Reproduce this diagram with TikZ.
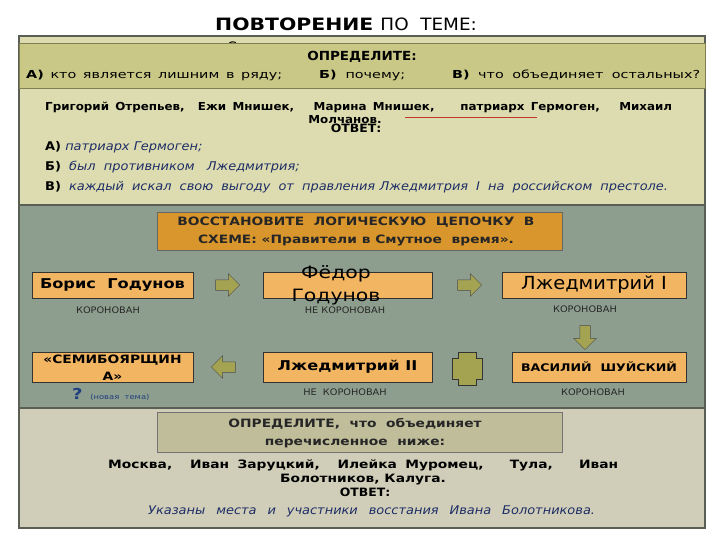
\documentclass[tikz,border=0pt]{standalone}
\usepackage{fontspec}
\setmainfont{DejaVu Sans}[FakeStretch=1.2]
\newfontfamily\cond{DejaVu Sans Condensed}[FakeStretch=1.2]
\newfontfamily\condw{DejaVu Sans Condensed}[FakeStretch=1.45]
\usetikzlibrary{shapes.arrows}
\definecolor{topfill}{HTML}{DCDCB0}
\definecolor{hdrfill}{HTML}{C9C887}
\definecolor{hdrline}{HTML}{7F7F50}
\definecolor{midfill}{HTML}{8E9E8E}
\definecolor{botfill}{HTML}{D0CEB9}
\definecolor{botbox}{HTML}{C0BD9A}
\definecolor{orgdark}{HTML}{D9962C}
\definecolor{orglight}{HTML}{F2B562}
\definecolor{olivearr}{HTML}{A3A352}
\definecolor{framec}{HTML}{5A5F55}
\definecolor{navy}{HTML}{1E2D66}
\definecolor{qblue}{HTML}{1F3F7F}
\definecolor{redline}{HTML}{C0392B}
\newcommand{\spread}[2]{\makebox[#1][s]{#2}}
\tikzset{
  ruler/.style={draw=black!80, fill=orglight, line width=0.6pt, inner sep=0pt},
  blockarr/.style={single arrow, draw=black!70, fill=olivearr, line width=0.5pt,
    minimum height=24pt, minimum width=0pt, inner xsep=0pt, inner ysep=5pt,
    single arrow head extend=6pt},
  lbl/.style={font=\cond\fontsize{9}{10}\selectfont, text=black!85},
  txt/.style={inner sep=0pt, font=\fontsize{10}{12}\selectfont},
  hq/.style={inner sep=0pt, anchor=west, font=\condw\fontsize{11}{13}\selectfont},
}
\begin{document}
\begin{tikzpicture}[x=1pt,y=-1pt]
\useasboundingbox (0,0) rectangle (720,540);
\fill[white] (0,0) rectangle (720,540);
% title
\node[inner sep=0pt, anchor=west, font=\fontsize{17}{19}\selectfont] (title) at (215,24)
  {\bfseries ПОВТОРЕНИЕ\ \mdseries\cond ПО\ \ ТЕМЕ:};
% panels
\fill[topfill] (19,36) rectangle (705,205);
\fill[midfill] (19,205) rectangle (705,408);
\fill[botfill] (19,408) rectangle (705,528);
\draw[framec, line width=1.2pt] (19,205) -- (705,205);
\draw[framec, line width=1.2pt] (19,408) -- (705,408);
\draw[framec, line width=2.4pt] (19,36) rectangle (705,528);
\node[inner sep=0pt, font=\cond\fontsize{13}{14}\selectfont] (hidden) at (232,47) {С};
% header box
\node[draw=hdrline, fill=hdrfill, line width=1pt, minimum width=686pt, minimum height=45pt, inner sep=0pt] (hdr) at (362,66.5) {};
\node[txt, font=\bfseries\cond\fontsize{12.5}{14}\selectfont] (hdrt) at (362,57) {ОПРЕДЕЛИТЕ:};
\node[hq] (qa) at (26,75) {\spread{256pt}{\textbf{А)} кто является лишним в ряду;}};
\node[hq] (qb) at (319,75) {\spread{86pt}{\textbf{Б)} почему;}};
\node[hq] (qc) at (452,75) {\spread{248pt}{\textbf{В)} что объединяет остальных?}};
% names
\node[txt, anchor=west, font=\bfseries\cond\fontsize{11}{13}\selectfont] (names) at (45,107)
  {\spread{627pt}{Григорий Отрепьев, \ Ежи Мнишек, \ \ Марина Мнишек, \ \ \ патриарх Гермоген, \ \ Михаил}};
\node[txt, font=\bfseries\cond\fontsize{11}{13}\selectfont] (molch) at (345,120) {Молчанов.};
\node[txt, font=\bfseries\cond\fontsize{11.5}{13}\selectfont] (otv1) at (356,128) {ОТВЕТ:};
\coordinate (ul1) at (405,117);
\coordinate (ul2) at (537,117);
\draw[redline, line width=0.8pt] (ul1) -- (ul2);
% answers
\node[txt, anchor=west, font=\cond\fontsize{12}{14}\selectfont] (ansa) at (45,147)
  {\textbf{А)} \textcolor{navy}{\itshape патриарх\ Гермоген;}};
\node[txt, anchor=west, font=\cond\fontsize{12}{14}\selectfont] (ansb) at (45,167)
  {\textbf{Б)}\ \ \textcolor{navy}{\itshape был\ \ противником\ \ \ Лжедмитрия;}};
\node[txt, anchor=west, font=\cond\fontsize{12}{14}\selectfont] (ansc) at (45,187)
  {\spread{623pt}{\textbf{В)} \textcolor{navy}{\itshape каждый искал свою выгоду от правления\hspace{-0.3em} Лжедмитрия I на российском престоле.}}};
% middle header
\node[draw=black!60, fill=orgdark, line width=0.6pt, minimum width=405pt, minimum height=38pt, inner sep=0pt] (task) at (359.5,231) {};
\node[txt, align=center, font=\bfseries\fontsize{11.5}{18}\selectfont, text=black!85] (taskt) at (356,231)
  {ВОССТАНОВИТЕ\ \ ЛОГИЧЕСКУЮ\ \ ЦЕПОЧКУ\ \ В\\СХЕМЕ: «Правители в Смутное\ \ время».};
% row 1
\node[ruler, minimum width=161pt, minimum height=26pt, font=\bfseries\fontsize{13.5}{15}\selectfont] (boris) at (112.5,285) {Борис\ \ Годунов};
\node[ruler, minimum width=169pt, minimum height=26pt] (fedor) at (347.5,285) {};
\node[inner sep=0pt, align=center, font=\fontsize{17}{23}\selectfont] (fedort) at (336,285) {Фёдор\\Годунов};
\node[ruler, minimum width=184pt, minimum height=26pt, font=\cond\fontsize{18}{20}\selectfont] (lzh1) at (594,285) {Лжедмитрий I};
\node[blockarr] (a1) at (225,285) {};
\node[blockarr] (a2) at (467,285) {};
\node[lbl] (k1) at (108,310) {КОРОНОВАН};
\node[lbl] (k2) at (345,310) {НЕ\ КОРОНОВАН};
\node[lbl] (k3) at (585,309) {КОРОНОВАН};
% row 2
\node[ruler, minimum width=161pt, minimum height=30pt] (semi) at (112.5,367) {};
\node[inner sep=0pt, align=center, font=\bfseries\fontsize{11.5}{17}\selectfont] (semit) at (112.5,368) {«СЕМИБОЯРЩИН\\А»};
\node[ruler, minimum width=169pt, minimum height=30pt, font=\bfseries\fontsize{13.5}{15}\selectfont] (lzh2) at (347.5,367) {Лжедмитрий II};
\node[ruler, minimum width=174pt, minimum height=30pt, font=\bfseries\fontsize{10.5}{12}\selectfont] (shuy) at (599,367) {ВАСИЛИЙ\ \ ШУЙСКИЙ};
\node[blockarr, shape border rotate=180] (a3) at (226,367) {};
\node[blockarr, rotate=-90] (a4) at (585,335) {};
\draw[black!80, fill=olivearr, line width=0.6pt] (452,358) -- (458,358) -- (458,352) -- (476,352) -- (476,358) -- (482,358)
  -- (482,379) -- (476,379) -- (476,385) -- (458,385) -- (458,379) -- (452,379) -- cycle;
\node[inner sep=0pt, anchor=base west] (q) at (72,399) {\textcolor{qblue}{\bfseries\fontsize{15}{16}\selectfont ?}\ \ \textcolor{qblue}{\fontsize{7}{8}\selectfont (новая\ \ тема)}};
\node[lbl] (k4) at (345,392) {НЕ\ \ КОРОНОВАН};
\node[lbl] (k5) at (593,392) {КОРОНОВАН};
% bottom
\node[draw=black!55, fill=botbox, line width=0.6pt, minimum width=405pt, minimum height=40pt, inner sep=0pt] (task2) at (359.5,432) {};
\node[txt, align=center, font=\bfseries\fontsize{11.5}{18}\selectfont, text=black!85] (task2t) at (355,433)
  {ОПРЕДЕЛИТЕ,\ \ что\ \ объединяет\\перечисленное\ \ ниже:};
\node[txt, anchor=west, font=\bfseries\fontsize{11.5}{13}\selectfont] (places) at (108,465)
  {\spread{510pt}{Москва, \ Иван Заруцкий, \ Илейка Муромец, \ \ Тула, \ \ Иван}};
\node[txt, font=\bfseries\fontsize{11.5}{13}\selectfont] (places2) at (363,480) {Болотников,\ Калуга.};
\node[txt, font=\bfseries\cond\fontsize{11.5}{13}\selectfont] (otv2) at (365,492) {ОТВЕТ:};
\node[txt, anchor=west, font=\cond\itshape\fontsize{12}{14}\selectfont, text=navy] (ans2) at (148,511)
  {\spread{447pt}{Указаны места и участники восстания Ивана Болотникова.}};
\end{tikzpicture}
\end{document}
